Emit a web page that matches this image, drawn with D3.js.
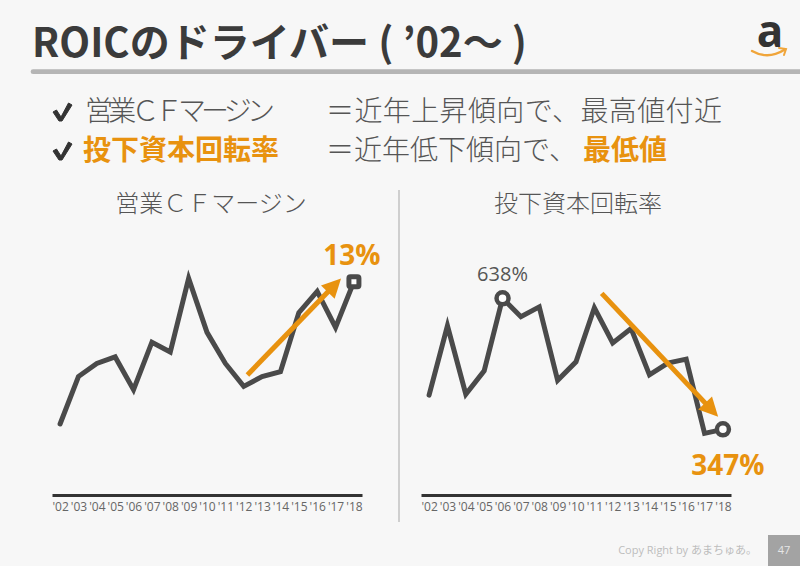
<!DOCTYPE html>
<html><head><meta charset="utf-8">
<script src="https://cdn.jsdelivr.net/npm/d3@7/dist/d3.min.js"></script>
<style>
html,body{margin:0;padding:0;background:#f7f7f7;}
svg{display:block;}
</style></head>
<body>
<svg id="chart" width="800" height="566"></svg>
<script>
// ---------- data ----------
const years = ["'02","'03","'04","'05","'06","'07","'08","'09","'10","'11","'12","'13","'14","'15","'16","'17","'18"];
const cfMargin = [4.5, 7.4, 8.2, 8.6, 6.6, 9.5, 8.9, 13.4, 10.1, 8.2, 6.8, 7.4, 7.7, 11.3, 12.6, 10.4, 13.2];
const capitalTurnover = [423, 577, 425, 477, 638, 597, 619, 456, 497, 617, 539, 571, 468, 494, 503, 338, 347];
const cfDomain = [0, 15];
const turnoverDomain = [200, 800];
// trend arrows: [yearIndex, value] start -> tip
const cfArrow = [[10.2, 7.5], [15.3, 13.4]];
const turnoverArrow = [[9.4, 649], [15.74, 375]];
const cfLabel = "13%";
const turnoverMaxLabel = "638%";
const turnoverMinLabel = "347%";
const titleText = "ROICのドライバー ( ’02〜 )";
const chartTitles = ["営業ＣＦマージン", "投下資本回転率"];

// ---------- style ----------
const ORANGE = "#e8920f";
const DARK = "#4a4a4a";
const TEXT = "#555";
const JP = "'Noto Sans CJK JP','Noto Sans',sans-serif";
const LAT = "'Open Sans','Noto Sans',sans-serif";

const svg = d3.select("#chart");
svg.append("rect").attr("width", 800).attr("height", 566).attr("fill", "#f7f7f7");

// ---------- header ----------
svg.append("text").attr("x", 32).attr("y", 57)
  .attr("font-family", JP).attr("font-weight", 700).attr("font-size", 40)
  .attr("fill", "#3b3b3b").attr("textLength", 495).attr("lengthAdjust", "spacingAndGlyphs")
  .text(titleText);

svg.append("line").attr("x1", 33).attr("x2", 805).attr("y1", 71.7).attr("y2", 71.7)
  .attr("stroke", "#b5b5b5").attr("stroke-width", 4.7).attr("stroke-linecap", "round");

// amazon-like logo
svg.append("text").attr("x", 770).attr("y", 47).attr("text-anchor", "middle")
  .attr("font-family", LAT).attr("font-weight", 700).attr("font-size", 44)
  .attr("fill", "#333").text("a");
svg.append("path").attr("d", "M752,51 Q768,60 784,50").attr("fill", "none")
  .attr("stroke", "#f0a53a").attr("stroke-width", 2.5).attr("stroke-linecap", "round");
svg.append("path").attr("d", "M779,48 L786,49 L784,55").attr("fill", "none")
  .attr("stroke", "#f0a53a").attr("stroke-width", 2).attr("stroke-linecap", "round");

// ---------- bullet lines ----------
const bullets = svg.append("g").attr("font-family", JP).attr("font-size", 28);
[121, 160].forEach(y => {
  bullets.append("path")
    .attr("d", `M53,${y - 9} L56.5,${y - 11} L61,${y - 4} L68.5,${y - 18} L72,${y - 16} L62,${y} L59,${y} Z`)
    .attr("fill", "#333").attr("stroke", "#333").attr("stroke-width", 1).attr("stroke-linejoin", "round");
});
bullets.append("text").attr("x", 85).attr("y", 121).attr("fill", TEXT).attr("font-weight", 300)
  .attr("textLength", 190).text("営業ＣＦマージン");
bullets.append("text").attr("x", 326).attr("y", 121).attr("fill", TEXT).attr("font-weight", 300)
  .attr("textLength", 396).text("＝近年上昇傾向で、最高値付近");
bullets.append("text").attr("x", 83).attr("y", 160).attr("fill", ORANGE).attr("font-weight", 700)
  .text("投下資本回転率");
const l2 = bullets.append("text").attr("x", 326).attr("y", 160);
l2.append("tspan").attr("fill", TEXT).attr("font-weight", 300).text("＝近年低下傾向で、");
l2.append("tspan").attr("fill", ORANGE).attr("font-weight", 700).attr("dx", 6).text("最低値");

// divider
svg.append("line").attr("x1", 399).attr("x2", 399).attr("y1", 190).attr("y2", 522)
  .attr("stroke", "#cfcfcf").attr("stroke-width", 2);

// ---------- charts ----------
function drawArrow(g, x0, y0, x1, y1) {
  const dx = x1 - x0, dy = y1 - y0, len = Math.hypot(dx, dy);
  const ux = dx / len, uy = dy / len, nx = -uy, ny = ux;
  const hl = 19, hw = 9.5;
  const bx = x1 - ux * hl, by = y1 - uy * hl;
  g.append("line").attr("x1", x0).attr("y1", y0).attr("x2", bx + ux * 2).attr("y2", by + uy * 2)
    .attr("stroke", ORANGE).attr("stroke-width", 5);
  g.append("path").attr("d", `M${x1},${y1}L${bx + nx * hw},${by + ny * hw}L${bx - nx * hw},${by - ny * hw}Z`)
    .attr("fill", ORANGE);
}

function drawChart(opts) {
  const g = svg.append("g");
  const x = d3.scalePoint().domain(years).range(opts.xRange).padding(0.44);
  const xi = d3.scaleLinear().domain([0, years.length - 1]).range([x(years[0]), x(years[years.length - 1])]);
  const y = d3.scaleLinear().domain(opts.domain).range(opts.yRange);

  g.append("text").attr("x", opts.titleX).attr("y", 212).attr("text-anchor", "middle")
    .attr("font-family", JP).attr("font-weight", 300).attr("font-size", 24).attr("fill", TEXT)
    .text(opts.title);

  const axis = g.append("g").attr("transform", "translate(0,495)")
    .call(d3.axisBottom(x).tickSize(0).tickSizeOuter(0).tickPadding(7));
  axis.select(".domain").attr("stroke", "#333").attr("stroke-width", 3);
  axis.selectAll("text").attr("font-family", LAT).attr("font-size", 12).attr("fill", "#666");

  const line = d3.line().x((d, i) => x(years[i])).y(d => y(d));
  g.append("path").datum(opts.values).attr("d", line).attr("fill", "none")
    .attr("stroke", DARK).attr("stroke-width", 5).attr("stroke-linecap", "round")
    .attr("stroke-linejoin", "miter");

  const a = opts.arrow;
  drawArrow(g, xi(a[0][0]), y(a[0][1]), xi(a[1][0]), y(a[1][1]));
  return {g, x, y};
}

// left: CF margin
const L = drawChart({xRange: [52, 362], domain: cfDomain, yRange: [497.6, 252.2],
  values: cfMargin, arrow: cfArrow, title: chartTitles[0], titleX: 211});
const lastI = years.length - 1;
L.g.append("rect").attr("x", L.x(years[lastI]) - 5).attr("y", L.y(cfMargin[lastI]) - 5)
  .attr("width", 10).attr("height", 10).attr("rx", 1.5)
  .attr("fill", "#fff").attr("stroke", DARK).attr("stroke-width", 5);
L.g.append("text").attr("x", L.x(years[lastI]) - 2).attr("y", L.y(cfMargin[lastI]) - 17)
  .attr("text-anchor", "middle").attr("font-family", LAT).attr("font-weight", 700)
  .attr("font-size", 28).attr("fill", ORANGE).text(cfLabel);

// right: capital turnover
const R = drawChart({xRange: [421, 731], domain: turnoverDomain, yRange: [495.5, 225.4],
  values: capitalTurnover, arrow: turnoverArrow, title: chartTitles[1], titleX: 578});
const maxI = capitalTurnover.indexOf(d3.max(capitalTurnover));
[maxI, lastI].forEach(i => {
  R.g.append("circle").attr("cx", R.x(years[i])).attr("cy", R.y(capitalTurnover[i])).attr("r", 6)
    .attr("fill", "#fff").attr("stroke", DARK).attr("stroke-width", 4.5);
});
R.g.append("text").attr("x", R.x(years[maxI])).attr("y", R.y(capitalTurnover[maxI]) - 17)
  .attr("text-anchor", "middle").attr("font-family", LAT).attr("font-size", 20)
  .attr("fill", TEXT).text(turnoverMaxLabel);
R.g.append("text").attr("x", R.x(years[lastI]) + 5).attr("y", R.y(capitalTurnover[lastI]) + 46)
  .attr("text-anchor", "middle").attr("font-family", LAT).attr("font-weight", 700)
  .attr("font-size", 28).attr("fill", ORANGE).text(turnoverMinLabel);

// ---------- footer ----------
svg.append("text").attr("x", 757).attr("y", 554).attr("text-anchor", "end")
  .attr("font-family", "'Open Sans','Noto Sans CJK JP',sans-serif").attr("font-size", 11)
  .attr("fill", "#bdbdbd").text("Copy Right by あまちゅあ。");
svg.append("rect").attr("x", 768).attr("y", 535).attr("width", 32).attr("height", 31).attr("fill", "#a3a3a3");
svg.append("text").attr("x", 784).attr("y", 554).attr("text-anchor", "middle")
  .attr("font-family", LAT).attr("font-size", 11).attr("fill", "#e6e6e6").text("47");
</script>
</body></html>
